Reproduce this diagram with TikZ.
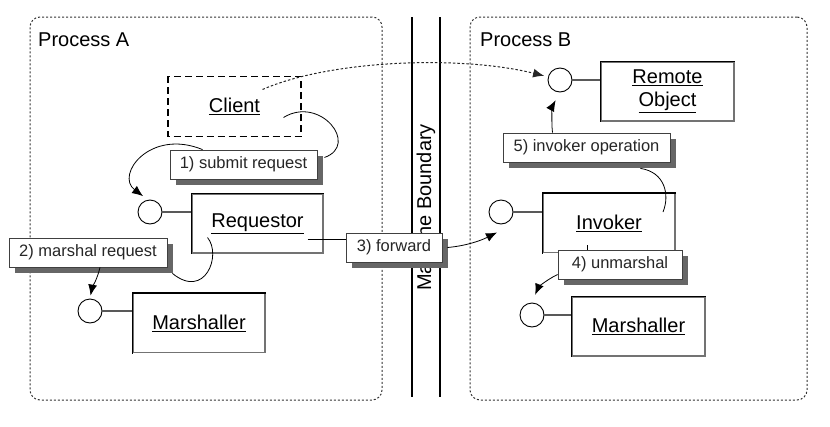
\documentclass[tikz,border=0pt]{standalone}
\usepackage{fontspec}
\setmainfont{Liberation Sans}
\usetikzlibrary{shadows,calc,arrows.meta}
\begin{document}
\begin{tikzpicture}[x=1pt,y=-1pt,
  namebox/.style={draw=black!55,line width=1.2pt,fill=white,minimum width=132pt,minimum height=59pt,
    inner sep=0pt,align=center,font=\fontsize{20}{23}\selectfont},
  lbl/.style={draw=black!75,line width=0.8pt,fill=white,inner xsep=9pt,minimum height=29pt,
    font=\fontsize{16.5}{19}\selectfont,text=black!85,
    drop shadow={shadow xshift=6pt,shadow yshift=-6pt,fill=black!60,opacity=1}},
  port/.style={circle,draw=black,line width=0.9pt,fill=white,minimum size=24pt,inner sep=0pt},
  stub/.style={draw=black!65,line width=1.5pt},
  arr/.style={-{Latex[length=11pt,width=9pt]},line width=0.8pt,black},
  proc/.style={draw=black!80,line width=1pt,dash pattern=on 2pt off 2pt,rounded corners=10pt},
  edge3d/.style={line width=1.7pt,black,line cap=rect},
  ttl/.style={anchor=west,inner sep=0pt,font=\fontsize{20}{23}\selectfont}]
\useasboundingbox (0,0) rectangle (830,426);
\fill[white] (0,0) rectangle (830,426);

% processes
\node[proc,minimum width=352pt,minimum height=383pt] (procA) at (206,208.5) {};
\node[proc,minimum width=337pt,minimum height=383pt] (procB) at (638.5,208.5) {};
\node[ttl] (procAt) at (38,40) {Process A};
\node[ttl] (procBt) at (480,40) {Process B};

% machine boundary
\draw[line width=2pt] (412,17) -- (412,397);
\draw[line width=2pt] (440,17) -- (440,397);
\node[rotate=90,inner sep=0pt,font=\fontsize{20}{23}\selectfont] (mb) at (426,207.5) {Machine Boundary};

% components
\node[namebox,draw=none] (client) at (234.5,106.5) {\underline{Client}};
\draw[line width=1.3pt,dash pattern=on 7pt off 4pt] (client.north west) rectangle (client.south east);
\node[namebox,minimum width=131pt] (req) at (257.5,223.5) {\underline{Requestor}};
\node[namebox] (marA) at (199,323) {\underline{Marshaller}};
\node[namebox] (inv) at (609,223) {\underline{Invoker}};
\node[namebox,minimum width=133pt] (rem) at (667.5,91.5) {\underline{Remote}\\\underline{Object}};
\node[namebox,minimum width=133pt] (marB) at (638.5,326.5) {\underline{Marshaller}};
\foreach \n in {req,marA,inv,rem,marB}
  \draw[edge3d] (\n.south west) -- (\n.north west) -- (\n.north east);

% ports
\node[port] (cReq) at (150,212) {};
\node[port] (cMarA) at (90,311) {};
\node[port] (cInv) at (501,212) {};
\node[port] (cRem) at (560,80) {};
\node[port] (cMarB) at (532,315) {};
\draw[stub] (cReq.east) -- (cReq -| req.west);
\draw[stub] (cMarA.east) -- (cMarA -| marA.west);
\draw[stub] (cInv.east) -- (cInv -| inv.west);
\draw[stub] (cRem.east) -- (cRem -| rem.west);
\draw[stub] (cMarB.east) -- (cMarB -| marB.west);

% labels
\node[lbl,minimum width=147pt] (l1) at (243.5,164.5) {1) submit request};
\node[lbl,minimum width=158pt] (l2) at (88,252.5) {2) marshal request};
\node[lbl,minimum width=96pt] (l3) at (394,247.5) {3) forward};
\node[lbl,minimum width=124pt] (l4) at (620,264.5) {4) unmarshal};
\node[lbl,minimum width=167pt] (l5) at (586.5,147.5) {5) invoker operation};

% connectors
% remote call (dotted)
\draw[arr,black!85,line width=1pt,dash pattern=on 2.5pt off 2pt,shorten >=4pt]
  ($(client.center)+(28,-17)$) .. controls (330,60) and (460,55) .. (cRem.165);
% 1) submit request
\draw[line width=0.8pt] ($(client.center)+(49,11)$) .. controls (320,95) and (360,145) .. ($(l1.east)+(7,-7)$);
\draw[arr,shorten >=6pt] ($(l1.north west)+(33,0)$) .. controls (150,128) and (115,175) .. (cReq.100);
% 2) marshal request
\draw[line width=0.8pt] ($(req.center)+(-50,14)$) .. controls (222,255) and (205,300) .. ($(l2.south east)+(5,6)$);
\draw[arr,shorten >=3pt] ($(l2.south)+(12,0)$) .. controls (97,280) and (92,288) .. (cMarA.north);
% 3) forward
\draw[line width=0.8pt] ($(req.center)+(50,15.5)$) coordinate (a3) -- (a3 -| l3.west);
\draw[arr] ($(l3.east)+(5,0)$) .. controls (465,246) and (480,241) .. ($(cInv.south)+(-4,8)$);
% 4) unmarshal
\draw[line width=0.8pt] ($(inv.center)+(-22,22)$) coordinate (a4) -- (a4 |- l4.north);
\draw[arr,shorten >=3pt] ($(l4.west)+(0,10)$) .. controls (546,280) and (538,288) .. ($(cMarB.north)+(2,-5)$);
% 5) invoker operation
\draw[line width=0.8pt] ($(inv.center)+(54,-11)$) .. controls (670,195) and (665,172) .. ($(l5.south east)+(-30,6)$);
\draw[arr,shorten >=9pt] ($(l5.north)+(-34,0)$) .. controls (551,120) and (553,105) .. (cRem.south);
\end{tikzpicture}
\end{document}
